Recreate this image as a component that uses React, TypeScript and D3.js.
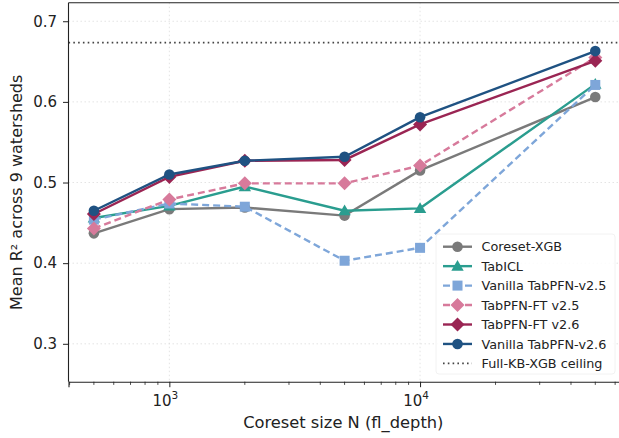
import React, { useEffect, useRef } from 'react'
import * as d3 from 'd3'

const sizes = [500, 1000, 2000, 5000, 10000, 50000]
const seriesNames = [
  'Coreset-XGB',
  'TabICL',
  'Vanilla TabPFN-v2.5',
  'TabPFN-FT v2.5',
  'TabPFN-FT v2.6',
  'Vanilla TabPFN-v2.6',
]
const coresetXgb = [0.437, 0.467, 0.469, 0.459, 0.515, 0.606]
const tabIcl = [0.456, 0.471, 0.495, 0.465, 0.468, 0.622]
const vanillaV25 = [0.454, 0.474, 0.470, 0.403, 0.419, 0.621]
const ftV25 = [0.443, 0.479, 0.499, 0.499, 0.521, 0.655]
const ftV26 = [0.461, 0.507, 0.527, 0.528, 0.572, 0.651]
const vanillaV26 = [0.465, 0.510, 0.527, 0.532, 0.581, 0.663]
const ceiling = 0.6735
const yTicks = [0.3, 0.4, 0.5, 0.6, 0.7]
const xMajor = [1000, 10000]

const styles = [
  { color: '#7a7a7a', marker: 'circle', dash: null },
  { color: '#2a9d8f', marker: 'triangle', dash: null },
  { color: '#7ea6d9', marker: 'square', dash: '7,4' },
  { color: '#d77a9b', marker: 'diamond', dash: '7,4' },
  { color: '#9a2553', marker: 'diamond', dash: null },
  { color: '#1f5282', marker: 'circle', dash: null },
]
const allValues = [coresetXgb, tabIcl, vanillaV25, ftV25, ftV26, vanillaV26]

const W = 619
const H = 438
const m = { left: 68.5, top: 2.7, bottom: 381.7 }

const App = () => {
  const svgRef = useRef<SVGSVGElement>(null)

  useEffect(() => {
    const svg = d3.select(svgRef.current)
    svg.selectAll('*').remove()
    const font = 'DejaVu Sans, sans-serif'

    const x = d3.scaleLog().domain([396, 1e5]).range([m.left, m.left + (5 - Math.log10(396)) * 250.7])
    const y = d3.scaleLinear().domain([0.253, 0.723]).range([m.bottom, m.top])

    // grid
    const grid = svg.append('g')
    yTicks.forEach((t) => {
      grid.append('line').attr('x1', m.left).attr('x2', W).attr('y1', y(t)).attr('y2', y(t))
        .attr('stroke', '#dcdcdc').attr('stroke-width', 0.8).attr('stroke-dasharray', '1.5,2.5')
    })
    xMajor.forEach((t) => {
      grid.append('line').attr('x1', x(t)).attr('x2', x(t)).attr('y1', m.top).attr('y2', m.bottom)
        .attr('stroke', '#dcdcdc').attr('stroke-width', 0.8).attr('stroke-dasharray', '1.5,2.5')
    })

    // ceiling
    svg.append('line').attr('x1', m.left).attr('x2', W).attr('y1', y(ceiling)).attr('y2', y(ceiling))
      .attr('stroke', '#444').attr('stroke-width', 1.6).attr('stroke-dasharray', '1.6,3.2')

    const line = d3.line<number>().x((_, i) => x(sizes[i])).y((d) => y(d))

    const drawMarker = (g: any, kind: string, cx: number, cy: number, color: string) => {
      if (kind === 'circle') {
        g.append('circle').attr('cx', cx).attr('cy', cy).attr('r', 5.3).attr('fill', color)
      } else if (kind === 'square') {
        g.append('rect').attr('x', cx - 5).attr('y', cy - 5).attr('width', 10).attr('height', 10).attr('fill', color)
      } else if (kind === 'triangle') {
        g.append('path').attr('d', `M${cx},${cy - 6.2} L${cx + 6.2},${cy + 4.6} L${cx - 6.2},${cy + 4.6} Z`).attr('fill', color)
      } else {
        g.append('path').attr('d', `M${cx},${cy - 7} L${cx + 7},${cy} L${cx},${cy + 7} L${cx - 7},${cy} Z`).attr('fill', color)
      }
    }

    allValues.forEach((vals, si) => {
      const s = styles[si]
      const g = svg.append('g')
      g.append('path').attr('d', line(vals)).attr('fill', 'none').attr('stroke', s.color)
        .attr('stroke-width', 2.4).attr('stroke-dasharray', s.dash)
      vals.forEach((v, i) => drawMarker(g, s.marker, x(sizes[i]), y(v), s.color))
    })

    // spines
    svg.append('line').attr('x1', m.left).attr('x2', m.left).attr('y1', m.top).attr('y2', m.bottom)
      .attr('stroke', '#222').attr('stroke-width', 1.1)
    svg.append('line').attr('x1', m.left).attr('x2', W).attr('y1', m.top).attr('y2', m.top)
      .attr('stroke', '#222').attr('stroke-width', 1.1)

    // x axis
    const minor: number[] = []
    for (let e = 2; e <= 4; e++) for (let k = 2; k <= 9; k++) minor.push(k * 10 ** e)
    const xa = svg.append('g').attr('transform', `translate(0,${m.bottom})`)
      .call(d3.axisBottom(x).tickValues(xMajor).tickSize(5.5).tickFormat(() => ''))
    xa.select('.domain').attr('stroke', '#222').attr('stroke-width', 1.1)
    xa.selectAll('.tick line').attr('stroke', '#222')
    minor.filter((v) => x(v) >= m.left && x(v) <= W).forEach((v) => {
      svg.append('line').attr('x1', x(v)).attr('x2', x(v)).attr('y1', m.bottom).attr('y2', m.bottom + 3.2)
        .attr('stroke', '#222').attr('stroke-width', 0.8)
    })
    xMajor.forEach((t) => {
      const txt = svg.append('text').attr('x', x(t) - 4).attr('y', 406).attr('text-anchor', 'middle')
        .attr('font-family', font).attr('font-size', 15).attr('fill', '#222')
      txt.append('tspan').text('10')
      txt.append('tspan').attr('dy', -7).attr('font-size', 10.5).text(String(Math.log10(t)))
    })

    // y axis
    const ya = svg.append('g').attr('transform', `translate(${m.left},0)`)
      .call(d3.axisLeft(y).tickValues(yTicks).tickSize(5.5).tickPadding(6).tickFormat(d3.format('.1f')))
    ya.select('.domain').remove()
    ya.selectAll('.tick line').attr('stroke', '#222')
    ya.selectAll('.tick text').attr('font-family', font).attr('font-size', 15).attr('fill', '#222')

    svg.append('text').attr('transform', `translate(21.5,192.3) rotate(-90)`)
      .attr('text-anchor', 'middle').attr('font-family', font).attr('font-size', 16).attr('fill', '#222')
      .text('Mean R² across 9 watersheds')
    svg.append('text').attr('x', 343.3).attr('y', 428.3).attr('text-anchor', 'middle')
      .attr('font-family', font).attr('font-size', 16.3).attr('fill', '#222')
      .text('Coreset size N (fl_depth)')

    // legend
    const lg = svg.append('g')
    lg.append('rect').attr('x', 436).attr('y', 234).attr('width', 179).attr('height', 140).attr('rx', 3)
      .attr('fill', 'white').attr('fill-opacity', 0.85).attr('stroke', '#f2f2f2')
    const names = [...seriesNames, 'Full-KB-XGB ceiling']
    names.forEach((n, i) => {
      const cy = 246.7 + i * 19.45
      if (i < styles.length) {
        const s = styles[i]
        lg.append('line').attr('x1', 443).attr('x2', 472).attr('y1', cy).attr('y2', cy)
          .attr('stroke', s.color).attr('stroke-width', 2.4).attr('stroke-dasharray', s.dash)
        drawMarker(lg, s.marker, 457.5, cy, s.color)
      } else {
        lg.append('line').attr('x1', 443).attr('x2', 472).attr('y1', cy).attr('y2', cy)
          .attr('stroke', '#444').attr('stroke-width', 1.6).attr('stroke-dasharray', '1.6,3.2')
      }
      lg.append('text').attr('x', 481.5).attr('y', cy + 4.6).attr('font-family', font).attr('font-size', 12.8)
        .attr('fill', '#222').text(n)
    })
  }, [])

  return (
    <svg ref={svgRef} width={W} height={H} style={{ position: 'absolute', left: 0, top: 0, background: 'white' }} />
  )
}

export default App
